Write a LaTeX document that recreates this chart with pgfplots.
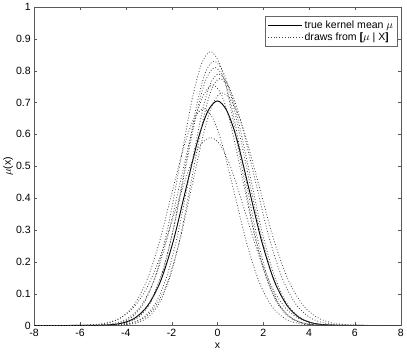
\documentclass[border=0pt]{standalone}
\usepackage{fontspec}
\setmainfont{Liberation Sans}
\usepackage{pgfplots}
\pgfplotsset{compat=1.18}
\begin{document}
\begin{tikzpicture}
\begin{axis}[
  scale only axis, width=366pt, height=318pt,
  xmin=-8, xmax=8, ymin=0, ymax=1,
  xtick={-8,-6,...,8}, ytick={0,0.1,...,1},
  /pgf/number format/assume math mode=true,
  yticklabel style={/pgf/number format/fixed, /pgf/number format/precision=1},
  tick label style={font=\fontsize{10.5}{12}\selectfont},
  label style={font=\fontsize{10.5}{12}\selectfont},
  tick align=inside, major tick length=3pt,
  axis line style={black!65}, tick style={black!65},
  xlabel={x}, ylabel={$\mu$(x)},
  xlabel style={yshift=0pt}, ylabel style={yshift=-4pt},
  legend style={at={(0.992,0.972)}, anchor=north east, draw=black!60,
    font=\fontsize{10.5}{12}\selectfont, legend cell align=left, row sep=-1pt, inner sep=2.5pt},
  legend image code/.code={\draw[#1] (0cm,0cm) -- (1.2cm,0cm);},
  every axis plot/.append style={smooth, tension=0.5},
  clip=true]
% true kernel mean
\addplot[black, line width=0.9pt] coordinates {(-8,0) (-5.52,0.0002) (-4.69,0.0022) (-4.14,0.0078) (-3.59,0.024) (-3.04,0.0627) (-2.48,0.1396) (-1.93,0.2644) (-1.38,0.4276) (-0.83,0.5887) (-0.41,0.674) (0,0.705) (0.41,0.674) (0.83,0.5887) (1.38,0.4276) (1.93,0.2644) (2.48,0.1396) (3.04,0.0627) (3.59,0.024) (4.14,0.0078) (4.69,0.0022) (5.52,0.0002) (8,0)};
\addlegendentry{true kernel mean $\mu$}
% draws
\addplot[black!75, dotted, line width=0.8pt] coordinates {(-8,0) (-5.5,0.0003) (-4.72,0.0027) (-4.2,0.0095) (-3.68,0.0292) (-3.16,0.0765) (-2.64,0.1703) (-2.12,0.3225) (-1.6,0.5216) (-1.08,0.7181) (-0.69,0.8222) (-0.3,0.86) (0.09,0.8222) (0.48,0.7181) (1.0,0.5216) (1.52,0.3225) (2.04,0.1703) (2.56,0.0765) (3.08,0.0292) (3.6,0.0095) (4.12,0.0027) (4.9,0.0003) (8,0)};
\addlegendentry{draws from [\kern-0.22em[$\mu$ | X]\kern-0.22em]}
\addplot[black!75, dotted, line width=0.8pt] coordinates {(-8,0) (-5.15,0.0002) (-4.4,0.0026) (-3.9,0.0092) (-3.4,0.0282) (-2.9,0.0738) (-2.4,0.1643) (-1.9,0.3113) (-1.4,0.5034) (-0.9,0.6931) (-0.53,0.7935) (-0.15,0.83) (0.27,0.7935) (0.69,0.6931) (1.25,0.5034) (1.81,0.3113) (2.37,0.1643) (2.93,0.0738) (3.49,0.0282) (4.05,0.0092) (4.61,0.0026) (5.45,0.0002) (8,0)};
\addplot[black!75, dotted, line width=0.8pt] coordinates {(-8,0) (-5.3,0.0002) (-4.52,0.0025) (-4.0,0.009) (-3.48,0.0275) (-2.96,0.072) (-2.44,0.1604) (-1.92,0.3038) (-1.4,0.4913) (-0.88,0.6764) (-0.49,0.7744) (-0.1,0.81) (0.28,0.7744) (0.65,0.6764) (1.15,0.4913) (1.65,0.3038) (2.15,0.1604) (2.65,0.072) (3.15,0.0275) (3.65,0.009) (4.15,0.0025) (4.9,0.0002) (8,0)};
\addplot[black!75, dotted, line width=0.8pt] coordinates {(-8,0) (-4.95,0.0002) (-4.2,0.0024) (-3.7,0.0088) (-3.2,0.0269) (-2.7,0.0702) (-2.2,0.1564) (-1.7,0.2963) (-1.2,0.4791) (-0.7,0.6597) (-0.33,0.7552) (0.05,0.79) (0.46,0.7552) (0.86,0.6597) (1.4,0.4791) (1.94,0.2963) (2.48,0.1564) (3.02,0.0702) (3.56,0.0269) (4.1,0.0088) (4.64,0.0024) (5.45,0.0002) (8,0)};
\addplot[black!75, dotted, line width=0.8pt] coordinates {(-8,0) (-4.7,0.0002) (-3.98,0.0024) (-3.5,0.0086) (-3.02,0.0264) (-2.54,0.0689) (-2.06,0.1535) (-1.58,0.2906) (-1.1,0.47) (-0.62,0.6471) (-0.26,0.7409) (0.1,0.775) (0.55,0.7409) (1.0,0.6471) (1.6,0.47) (2.2,0.2906) (2.8,0.1535) (3.4,0.0689) (4.0,0.0264) (4.6,0.0086) (5.2,0.0024) (6.1,0.0002) (8,0)};
\addplot[black!75, dotted, line width=0.8pt] coordinates {(-8,0) (-5.8,0.0002) (-4.96,0.0023) (-4.4,0.0084) (-3.84,0.0257) (-3.28,0.0671) (-2.72,0.1495) (-2.16,0.2831) (-1.6,0.4579) (-1.04,0.6304) (-0.62,0.7218) (-0.2,0.755) (0.19,0.7218) (0.58,0.6304) (1.1,0.4579) (1.62,0.2831) (2.14,0.1495) (2.66,0.0671) (3.18,0.0257) (3.7,0.0084) (4.22,0.0023) (5.0,0.0002) (8,0)};
\addplot[black!75, dotted, line width=0.8pt] coordinates {(-8,0) (-6.2,0.0002) (-5.36,0.0021) (-4.8,0.0075) (-4.24,0.0231) (-3.68,0.0605) (-3.12,0.1346) (-2.56,0.255) (-2.0,0.4124) (-1.44,0.5678) (-1.02,0.6501) (-0.6,0.68) (-0.2,0.6501) (0.21,0.5678) (0.75,0.4124) (1.29,0.255) (1.83,0.1346) (2.37,0.0605) (2.91,0.0231) (3.45,0.0075) (3.99,0.0021) (4.8,0.0002) (8,0)};
\addplot[black!75, dotted, line width=0.8pt] coordinates {(-8,0) (-6.5,0.0002) (-5.57,0.0018) (-4.95,0.0065) (-4.33,0.0201) (-3.71,0.0525) (-3.09,0.1168) (-2.47,0.2213) (-1.85,0.3578) (-1.23,0.4927) (-0.77,0.564) (-0.3,0.59) (0.15,0.564) (0.6,0.4927) (1.2,0.3578) (1.8,0.2213) (2.4,0.1168) (3.0,0.0525) (3.6,0.0201) (4.2,0.0065) (4.8,0.0018) (5.7,0.0002) (8,0)};
\addplot[black!75, dotted, line width=0.8pt] coordinates {(-8,0) (-5.0,0.0002) (-4.22,0.0023) (-3.7,0.0081) (-3.18,0.0248) (-2.66,0.0649) (-2.14,0.1445) (-1.62,0.2738) (-1.1,0.4427) (-0.58,0.6096) (-0.19,0.6979) (0.2,0.73) (0.68,0.6979) (1.16,0.6096) (1.8,0.4427) (2.44,0.2738) (3.08,0.1445) (3.72,0.0649) (4.36,0.0248) (5.0,0.0081) (5.64,0.0023) (6.6,0.0002) (8,0)};
\end{axis}
\end{tikzpicture}
\end{document}
